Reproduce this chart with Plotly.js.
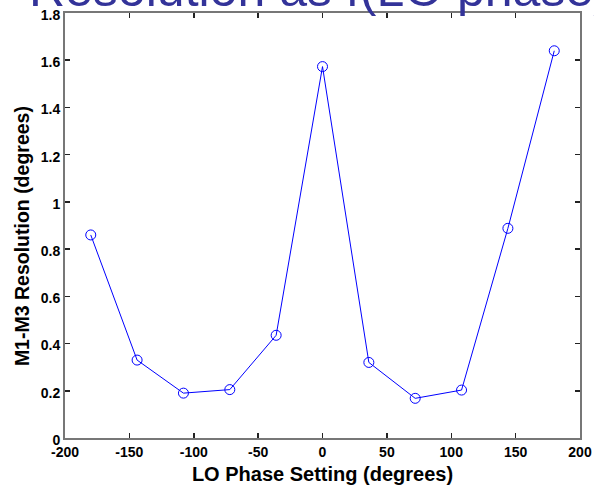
<!DOCTYPE html>
<html>
<head>
<meta charset="utf-8">
<script src="https://cdn.plot.ly/plotly-3.0.1.min.js"></script>
<style>html,body{margin:0;padding:0;background:#fff;}#chart{width:594px;height:489px;}</style>
</head>
<body>
<div id="chart"></div>
<script>
const phase = [-180, -144, -108, -72, -36, 0, 36, 72, 108, 144, 180];
const resolution = [0.86, 0.33, 0.19, 0.205, 0.435, 1.573, 0.32, 0.168, 0.203, 0.888, 1.64];
const xTicks = [-200, -150, -100, -50, 0, 50, 100, 150, 200];
const yTicks = [0, 0.2, 0.4, 0.6, 0.8, 1, 1.2, 1.4, 1.6, 1.8];
const titleText = 'Resolution as f(LO phase)';
const xTitle = 'LO Phase Setting (degrees)';
const yTitle = 'M1-M3 Resolution (degrees)';

const FONT = 'Arial, Liberation Sans, sans-serif';
const axisCommon = {
  showgrid: false, zeroline: false,
  showline: true, linecolor: '#777777', linewidth: 2, mirror: 'ticks',
  ticks: 'inside', ticklen: 5, tickwidth: 1.5, tickcolor: '#222222',
  tickfont: {family: FONT, size: 14, color: '#000', weight: 'bold'}
};

Plotly.newPlot('chart', [{
  x: phase, y: resolution, type: 'scatter', mode: 'lines+markers',
  line: {color: '#0000ff', width: 1},
  marker: {symbol: 'circle-open', size: 10, color: '#0000ff', line: {width: 1, color: '#0000ff'}}
}], {
  width: 594, height: 489,
  margin: {l: 65, r: 14, t: 13, b: 51},
  paper_bgcolor: '#fff', plot_bgcolor: '#fff',
  showlegend: false,
  xaxis: Object.assign({}, axisCommon, {
    range: [-200, 200], tickvals: xTicks, ticktext: xTicks.map(String),
    title: {text: xTitle, standoff: 8, font: {family: FONT, size: 20, color: '#000', weight: 'bold'}}
  }),
  yaxis: Object.assign({}, axisCommon, {
    range: [0, 1.8], tickvals: yTicks, ticktext: yTicks.map(String),
    ticklabelshift: 2
  }),
  annotations: [{
    text: titleText, xref: 'paper', yref: 'paper', x: -0.073, y: 0.986,
    xanchor: 'left', yanchor: 'bottom', showarrow: false,
    font: {family: FONT, size: 50, color: '#333399'}
  }, {
    text: yTitle, xref: 'paper', yref: 'paper', x: -0.0835, y: 0.475,
    xanchor: 'center', yanchor: 'middle', showarrow: false, textangle: -90,
    font: {family: FONT, size: 19.5, color: '#000', weight: 'bold'}
  }]
}, {displayModeBar: false, staticPlot: true});
</script>
</body>
</html>
